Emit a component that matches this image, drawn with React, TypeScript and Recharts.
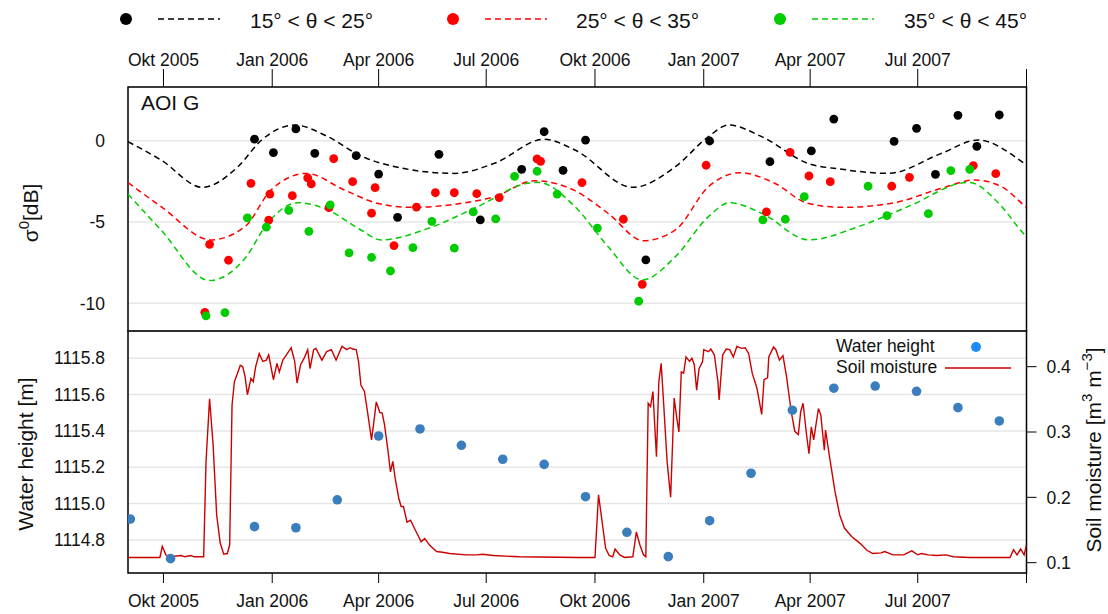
import { ComposedChart, Scatter, Line, XAxis, YAxis, CartesianGrid, ReferenceArea } from 'recharts'

const FONT = '"Liberation Sans", Arial, Helvetica, sans-serif'

const xStart = '2005-09-01'
const xEnd = '2007-10-01'
const tickDates = ['2005-10-01', '2006-01-01', '2006-04-01', '2006-07-01', '2006-10-01', '2007-01-01', '2007-04-01', '2007-07-01', '2007-10-01']
const tickLabels = ['Okt 2005', 'Jan 2006', 'Apr 2006', 'Jul 2006', 'Okt 2006', 'Jan 2007', 'Apr 2007', 'Jul 2007', '']

const sigmaRange = [-11.7, 3.3]
const heightRange = [1114.618, 1115.95]
const moistureRange = [0.0842, 0.4546]
const sigmaTicks = [-10, -5, 0]
const heightTicks = [1114.8, 1115.0, 1115.2, 1115.4, 1115.6, 1115.8]
const moistureTicks = [0.1, 0.2, 0.3, 0.4]

// sigma0 [dB] observations per incidence angle class
const obsLow: [string, number][] = [
  ['2005-12-17', 0.09], ['2006-01-02', -0.74], ['2006-01-21', 0.72], ['2006-02-06', -0.78], ['2006-03-13', -0.92],
  ['2006-04-01', -2.05], ['2006-04-17', -4.71], ['2006-05-22', -0.84], ['2006-06-26', -4.87], ['2006-07-31', -1.76],
  ['2006-08-19', 0.55], ['2006-09-04', -1.82], ['2006-09-23', 0.04], ['2006-11-13', -7.33], ['2007-01-06', -0.02],
  ['2007-02-26', -1.29], ['2007-04-02', -0.63], ['2007-04-21', 1.33], ['2007-06-11', -0.04], ['2007-06-30', 0.76],
  ['2007-07-16', -2.07], ['2007-08-04', 1.56], ['2007-08-20', -0.35], ['2007-09-08', 1.58],
]
const obsMid: [string, number][] = [
  ['2005-11-05', -10.55], ['2005-11-09', -6.37], ['2005-11-25', -7.35], ['2005-12-14', -2.62], ['2005-12-30', -3.28],
  ['2005-12-29', -4.89], ['2006-01-18', -3.38], ['2006-01-31', -2.29], ['2006-02-03', -2.66], ['2006-02-18', -4.12],
  ['2006-02-22', -1.11], ['2006-03-10', -2.52], ['2006-03-26', -4.46], ['2006-03-29', -2.89], ['2006-04-14', -6.45],
  ['2006-05-03', -4.08], ['2006-05-19', -3.2], ['2006-06-04', -3.2], ['2006-06-23', -3.26], ['2006-07-12', -3.5],
  ['2006-08-13', -1.12], ['2006-08-16', -1.27], ['2006-09-20', -2.58], ['2006-10-25', -4.83], ['2006-11-10', -8.83],
  ['2007-01-03', -1.51], ['2007-02-23', -4.38], ['2007-03-15', -0.72], ['2007-03-31', -2.17], ['2007-04-18', -2.52],
  ['2007-06-09', -2.8], ['2007-06-24', -2.25], ['2007-08-17', -1.53], ['2007-09-05', -2.03],
]
const obsHigh: [string, number][] = [
  ['2005-11-06', -10.77], ['2005-11-22', -10.57], ['2005-12-11', -4.75], ['2005-12-27', -5.32], ['2006-01-15', -4.28],
  ['2006-02-01', -5.57], ['2006-02-19', -3.95], ['2006-03-07', -6.9], ['2006-03-26', -7.17], ['2006-04-11', -8.01],
  ['2006-04-30', -6.58], ['2006-05-16', -4.96], ['2006-06-04', -6.6], ['2006-06-20', -4.38], ['2006-07-09', -4.81],
  ['2006-07-25', -2.19], ['2006-08-13', -1.88], ['2006-08-30', -3.28], ['2006-10-03', -5.37], ['2006-11-07', -9.87],
  ['2007-02-20', -4.87], ['2007-03-11', -4.83], ['2007-03-27', -3.44], ['2007-05-20', -2.8], ['2007-06-05', -4.61],
  ['2007-07-10', -4.49], ['2007-07-29', -1.84], ['2007-08-14', -1.76],
]

// fitted seasonal curves (dashed)
const fitLow: [string, number][] = [
  ['2005-09-01', -0.06], ['2005-09-29', -1.19], ['2005-11-03', -2.87], ['2005-12-03', -1.6], ['2005-12-23', 0.04],
  ['2006-01-20', 0.96], ['2006-02-17', 0.25], ['2006-03-17', -0.94], ['2006-04-15', -1.6], ['2006-06-04', -2.01],
  ['2006-07-08', -1.39], ['2006-08-19', 0.09], ['2006-09-14', -0.57], ['2006-11-02', -2.87], ['2006-12-08', -1.6],
  ['2007-01-05', 0.25], ['2007-01-22', 0.96], ['2007-02-19', 0.25], ['2007-03-30', -1.39], ['2007-04-28', -1.76],
  ['2007-06-06', -2.01], ['2007-07-21', -0.78], ['2007-08-21', 0.04], ['2007-09-27', -1.29], ['2007-10-01', -1.5],
]
const fitMid: [string, number][] = [
  ['2005-09-01', -2.58], ['2005-09-29', -4.05], ['2005-11-10', -6.1], ['2005-12-09', -5.28], ['2005-12-31', -3.03],
  ['2006-01-30', -2.01], ['2006-03-03', -3.03], ['2006-03-31', -3.85], ['2006-04-29', -4.1], ['2006-06-10', -3.85],
  ['2006-07-08', -3.44], ['2006-08-11', -2.46], ['2006-09-14', -3.07], ['2006-10-12', -4.46], ['2006-11-11', -6.15],
  ['2006-12-08', -5.49], ['2007-01-05', -2.83], ['2007-02-01', -1.97], ['2007-03-02', -2.62], ['2007-03-30', -3.85],
  ['2007-04-28', -4.1], ['2007-06-09', -3.85], ['2007-07-21', -2.93], ['2007-08-18', -2.42], ['2007-09-10', -2.83],
  ['2007-09-27', -3.85], ['2007-10-01', -4.1],
]
const fitHigh: [string, number][] = [
  ['2005-09-01', -3.28], ['2005-09-29', -5.5], ['2005-11-09', -8.6], ['2005-12-09', -7.23], ['2005-12-28', -5.08],
  ['2006-01-23', -3.81], ['2006-02-17', -4.26], ['2006-03-17', -5.49], ['2006-04-03', -6.1], ['2006-05-13', -5.39],
  ['2006-06-24', -4.05], ['2006-08-05', -2.62], ['2006-08-14', -2.56], ['2006-09-14', -4.05], ['2006-10-12', -6.51],
  ['2006-11-10', -8.56], ['2006-12-08', -7.13], ['2007-01-05', -4.67], ['2007-01-23', -3.81], ['2007-02-19', -4.46],
  ['2007-03-31', -6.1], ['2007-05-12', -5.28], ['2007-06-23', -4.05], ['2007-08-13', -2.56], ['2007-09-10', -4.05],
  ['2007-09-27', -5.59], ['2007-10-01', -5.9],
]

// water height [m]
const waterHeight: [string, number][] = [
  ['2005-09-03', 1114.915], ['2005-10-07', 1114.697], ['2005-12-17', 1114.873], ['2006-01-21', 1114.867],
  ['2006-02-25', 1115.021], ['2006-04-01', 1115.372], ['2006-05-06', 1115.411], ['2006-06-10', 1115.321],
  ['2006-07-15', 1115.244], ['2006-08-19', 1115.216], ['2006-09-23', 1115.038], ['2006-10-28', 1114.842],
  ['2006-12-02', 1114.708], ['2007-01-06', 1114.906], ['2007-02-10', 1115.167], ['2007-03-17', 1115.514],
  ['2007-04-21', 1115.635], ['2007-05-26', 1115.647], ['2007-06-30', 1115.618], ['2007-08-04', 1115.528],
  ['2007-09-08', 1115.455],
]

// soil moisture [m3 m-3]
const soil2005: [string, number][] = [
  ['2005-09-01', 0.108], ['2005-09-28', 0.108], ['2005-09-30', 0.125], ['2005-10-03', 0.112], ['2005-10-06', 0.109],
  ['2005-10-16', 0.111], ['2005-10-19', 0.109], ['2005-10-24', 0.111], ['2005-10-27', 0.109], ['2005-11-04', 0.109],
  ['2005-11-06', 0.255], ['2005-11-09', 0.351], ['2005-11-12', 0.28], ['2005-11-15', 0.173], ['2005-11-18', 0.13],
  ['2005-11-21', 0.113], ['2005-11-24', 0.114], ['2005-11-26', 0.127], ['2005-11-28', 0.341], ['2005-11-30', 0.377],
  ['2005-12-03', 0.392], ['2005-12-05', 0.402], ['2005-12-07', 0.4], ['2005-12-09', 0.385], ['2005-12-11', 0.357],
  ['2005-12-14', 0.382], ['2005-12-16', 0.377], ['2005-12-18', 0.4], ['2005-12-21', 0.42], ['2005-12-24', 0.408],
  ['2005-12-27', 0.41], ['2005-12-29', 0.418], ['2006-01-02', 0.38], ['2006-01-05', 0.405], ['2006-01-07', 0.392],
  ['2006-01-10', 0.41], ['2006-01-13', 0.418], ['2006-01-17', 0.429], ['2006-01-20', 0.408], ['2006-01-22', 0.375],
  ['2006-01-25', 0.403], ['2006-01-28', 0.413], ['2006-01-31', 0.426], ['2006-02-02', 0.397], ['2006-02-05', 0.426],
  ['2006-02-07', 0.428], ['2006-02-12', 0.41], ['2006-02-16', 0.423], ['2006-02-20', 0.426], ['2006-02-24', 0.41],
  ['2006-03-01', 0.431], ['2006-03-05', 0.426], ['2006-03-08', 0.429], ['2006-03-10', 0.427], ['2006-03-13', 0.426],
  ['2006-03-15', 0.408], ['2006-03-17', 0.372], ['2006-03-20', 0.362], ['2006-03-23', 0.326], ['2006-03-26', 0.288],
  ['2006-03-28', 0.316], ['2006-03-30', 0.346], ['2006-03-31', 0.341], ['2006-04-02', 0.33], ['2006-04-04', 0.329],
  ['2006-04-06', 0.311], ['2006-04-09', 0.27], ['2006-04-11', 0.239], ['2006-04-13', 0.255], ['2006-04-15', 0.229],
  ['2006-04-18', 0.199], ['2006-04-20', 0.186], ['2006-04-22', 0.186], ['2006-04-25', 0.162], ['2006-04-28', 0.165],
  ['2006-05-02', 0.15], ['2006-05-07', 0.132], ['2006-05-10', 0.137], ['2006-05-14', 0.127], ['2006-05-20', 0.117],
  ['2006-05-25', 0.116], ['2006-05-31', 0.114], ['2006-06-14', 0.112], ['2006-06-23', 0.112], ['2006-06-28', 0.113],
  ['2006-07-07', 0.111], ['2006-07-29', 0.109], ['2006-09-17', 0.108],
]
const soil2006: [string, number][] = [
  ['2006-10-01', 0.108], ['2006-10-04', 0.204], ['2006-10-07', 0.163], ['2006-10-10', 0.122], ['2006-10-13', 0.111],
  ['2006-10-16', 0.109], ['2006-10-18', 0.121], ['2006-10-22', 0.112], ['2006-10-26', 0.108], ['2006-11-02', 0.109],
  ['2006-11-05', 0.147], ['2006-11-08', 0.127], ['2006-11-11', 0.112], ['2006-11-13', 0.109], ['2006-11-15', 0.344],
  ['2006-11-17', 0.339], ['2006-11-19', 0.362], ['2006-11-22', 0.262], ['2006-11-24', 0.377], ['2006-11-26', 0.405],
  ['2006-11-28', 0.346], ['2006-12-01', 0.255], ['2006-12-04', 0.2], ['2006-12-07', 0.352], ['2006-12-09', 0.324],
  ['2006-12-11', 0.3], ['2006-12-13', 0.392], ['2006-12-15', 0.39], ['2006-12-17', 0.415], ['2006-12-20', 0.408],
  ['2006-12-22', 0.413], ['2006-12-24', 0.403], ['2006-12-26', 0.364], ['2006-12-28', 0.397], ['2006-12-31', 0.408],
  ['2007-01-01', 0.426], ['2007-01-05', 0.423], ['2007-01-07', 0.427], ['2007-01-10', 0.418], ['2007-01-13', 0.377],
  ['2007-01-14', 0.349], ['2007-01-17', 0.418], ['2007-01-20', 0.427], ['2007-01-23', 0.426], ['2007-01-26', 0.415],
  ['2007-01-29', 0.431], ['2007-02-02', 0.428], ['2007-02-05', 0.429], ['2007-02-08', 0.42], ['2007-02-11', 0.39],
  ['2007-02-15', 0.367], ['2007-02-19', 0.327], ['2007-02-21', 0.38], ['2007-02-24', 0.383], ['2007-02-25', 0.415],
  ['2007-03-01', 0.43], ['2007-03-03', 0.426], ['2007-03-06', 0.41], ['2007-03-09', 0.417], ['2007-03-12', 0.385],
  ['2007-03-16', 0.331], ['2007-03-19', 0.301], ['2007-03-22', 0.296], ['2007-03-24', 0.331], ['2007-03-26', 0.344],
  ['2007-03-29', 0.295], ['2007-03-31', 0.267], ['2007-04-02', 0.308], ['2007-04-04', 0.288], ['2007-04-08', 0.336],
  ['2007-04-10', 0.326], ['2007-04-13', 0.272], ['2007-04-14', 0.303], ['2007-04-18', 0.255], ['2007-04-22', 0.209],
  ['2007-04-26', 0.173], ['2007-04-30', 0.153], ['2007-05-06', 0.14], ['2007-05-13', 0.13], ['2007-05-19', 0.119],
  ['2007-05-24', 0.114], ['2007-05-31', 0.115], ['2007-06-03', 0.117], ['2007-06-10', 0.112], ['2007-06-19', 0.112],
  ['2007-06-26', 0.118], ['2007-07-01', 0.112], ['2007-07-04', 0.114], ['2007-07-10', 0.112], ['2007-07-17', 0.111],
  ['2007-07-25', 0.112], ['2007-07-31', 0.109], ['2007-08-14', 0.108], ['2007-09-17', 0.108], ['2007-09-20', 0.12],
  ['2007-09-23', 0.112], ['2007-09-26', 0.121], ['2007-09-29', 0.112], ['2007-10-01', 0.127],
]

const toRows = (rows: [string, number][]) => rows.map(([d, v]) => ({ t: Date.parse(d), v }))
const xDomain = [Date.parse(xStart), Date.parse(xEnd)]
const tickTimes = tickDates.map((d) => Date.parse(d))
const formatDate = (t: number) => tickLabels[tickTimes.indexOf(t)] ?? ''

const BLACK = '#000000'
const RED = '#ff0000'
const GREEN = '#00cc00'
const SOIL = '#cc0000'
const WATER = '#3b7ebd'

const tickStyle = { fontSize: 17.5, fill: '#111', fontFamily: FONT }

const dot = (color: string, r: number) => (p: any) => <circle cx={p.cx} cy={p.cy} r={r} fill={color} />

function SigmaPanel() {
  return (
    <ComposedChart width={1108} height={340} margin={{ top: 57, right: 81.5, bottom: 9, left: 68 }}>
      <CartesianGrid vertical={false} stroke="#e6e6e6" strokeWidth={1.5} />
      <XAxis
        type="number"
        dataKey="t"
        orientation="top"
        domain={xDomain}
        ticks={tickTimes}
        tickFormatter={formatDate}
        allowDataOverflow
        height={30}
        tickSize={18}
        tickMargin={3}
        axisLine={false}
        stroke="#000"
        tick={tickStyle}
      />
      <YAxis
        type="number"
        domain={sigmaRange}
        ticks={sigmaTicks}
        allowDataOverflow
        width={60}
        tickSize={0}
        tickMargin={23}
        tickLine={false}
        axisLine={false}
        tick={tickStyle}
      />
      <Line data={toRows(fitLow)} dataKey="v" type="monotone" stroke={BLACK} strokeWidth={1.5} strokeDasharray="6 4" dot={false} isAnimationActive={false} />
      <Line data={toRows(fitMid)} dataKey="v" type="monotone" stroke={RED} strokeWidth={1.5} strokeDasharray="6 4" dot={false} isAnimationActive={false} />
      <Line data={toRows(fitHigh)} dataKey="v" type="monotone" stroke={GREEN} strokeWidth={1.5} strokeDasharray="6 4" dot={false} isAnimationActive={false} />
      <Scatter data={toRows(obsLow)} dataKey="v" shape={dot(BLACK, 4.4)} isAnimationActive={false} />
      <Scatter data={toRows(obsMid)} dataKey="v" shape={dot(RED, 4.4)} isAnimationActive={false} />
      <Scatter data={toRows(obsHigh)} dataKey="v" shape={dot(GREEN, 4.4)} isAnimationActive={false} />
      {/* panel frame */}
      <ReferenceArea
        x1={xDomain[0]}
        x2={xDomain[1]}
        y1={sigmaRange[0]}
        y2={sigmaRange[1]}
        fill="none"
        fillOpacity={0}
        stroke="#000"
        strokeWidth={1.5}
        ifOverflow="visible"
      />
    </ComposedChart>
  )
}

function WaterPanel() {
  return (
    <ComposedChart width={1108} height={294} margin={{ top: 11, right: 21.5, bottom: 0, left: 68 }}>
      <CartesianGrid vertical={false} stroke="#e6e6e6" strokeWidth={1.5} />
      <XAxis
        type="number"
        dataKey="t"
        domain={xDomain}
        ticks={tickTimes}
        tickFormatter={formatDate}
        allowDataOverflow
        height={41}
        tickSize={10}
        tickMargin={12}
        axisLine={false}
        stroke="#000"
        tick={tickStyle}
      />
      <YAxis
        type="number"
        domain={heightRange}
        ticks={heightTicks}
        tickFormatter={(v: number) => v.toFixed(1)}
        allowDataOverflow
        width={60}
        tickSize={0}
        tickMargin={23}
        tickLine={false}
        axisLine={false}
        tick={tickStyle}
      />
      <YAxis
        yAxisId="sm"
        orientation="right"
        type="number"
        domain={moistureRange}
        ticks={moistureTicks}
        tickFormatter={(v: number) => v.toFixed(1)}
        allowDataOverflow
        width={60}
        tickSize={10}
        tickMargin={10}
        axisLine={false}
        stroke="#000"
        tick={tickStyle}
      />
      <Line
        yAxisId="sm"
        data={toRows([...soil2005, ...soil2006])}
        dataKey="v"
        type="linear"
        stroke={SOIL}
        strokeWidth={1.4}
        dot={false}
        isAnimationActive={false}
      />
      <Scatter data={toRows(waterHeight)} dataKey="v" shape={dot(WATER, 4.8)} isAnimationActive={false} />
      {/* panel frame */}
      <ReferenceArea
        x1={xDomain[0]}
        x2={xDomain[1]}
        y1={heightRange[0]}
        y2={heightRange[1]}
        fill="none"
        fillOpacity={0}
        stroke="#000"
        strokeWidth={1.5}
        ifOverflow="visible"
      />
    </ComposedChart>
  )
}

function Overlay() {
  const legendY = 19
  const items = [
    { color: BLACK, dotX: 126, lineX: 158, textX: 250, label: '15° < θ < 25°' },
    { color: RED, dotX: 453, lineX: 485, textX: 576, label: '25° < θ < 35°' },
    { color: GREEN, dotX: 780, lineX: 812, textX: 904, label: '35° < θ < 45°' },
  ]
  return (
    <svg width={1108} height={614} style={{ position: 'absolute', left: 0, top: 0, pointerEvents: 'none' }} fontFamily={FONT}>
      {items.map((it) => (
        <g key={it.label}>
          <circle cx={it.dotX} cy={legendY} r={6} fill={it.color} />
          <line x1={it.lineX} x2={it.lineX + 62} y1={legendY} y2={legendY} stroke={it.color} strokeWidth={1.5} strokeDasharray="6 4" />
          <text x={it.textX} y={27.5} fontSize={21} fill="#111">{it.label}</text>
        </g>
      ))}
      <text x={141} y={110} fontSize={21} fill="#111">AOI G</text>
      <text transform="translate(38,213) rotate(-90)" textAnchor="middle" fontSize={21} fill="#111">
        σ<tspan dy={-9} fontSize={15}>0</tspan>
        <tspan dy={9}>[dB]</tspan>
      </text>
      <text transform="translate(33,454) rotate(-90)" textAnchor="middle" fontSize={21} fill="#111">
        Water height [m]
      </text>
      <text transform="translate(1101,450) rotate(-90)" textAnchor="middle" fontSize={21} fill="#111">
        Soil moisture [m<tspan dy={-9} fontSize={15}>3</tspan>
        <tspan dy={9}> m</tspan>
        <tspan dy={-9} fontSize={15}>−3</tspan>
        <tspan dy={9}>]</tspan>
      </text>
      <text x={836} y={352} fontSize={17.5} fill="#111">Water height</text>
      <circle cx={976} cy={347} r={5} fill="#1a8cff" />
      <text x={836} y={373} fontSize={17.5} fill="#111">Soil moisture</text>
      <line x1={945} x2={1011} y1={368} y2={368} stroke={SOIL} strokeWidth={1.4} />
    </svg>
  )
}

export default function App() {
  return (
    <div style={{ position: 'absolute', left: 0, top: 0, width: 1108, height: 614, background: '#fff', fontFamily: FONT }}>
      <div style={{ position: 'absolute', left: 0, top: 0 }}>
        <SigmaPanel />
      </div>
      <div style={{ position: 'absolute', left: 0, top: 320 }}>
        <WaterPanel />
      </div>
      <Overlay />
    </div>
  )
}
